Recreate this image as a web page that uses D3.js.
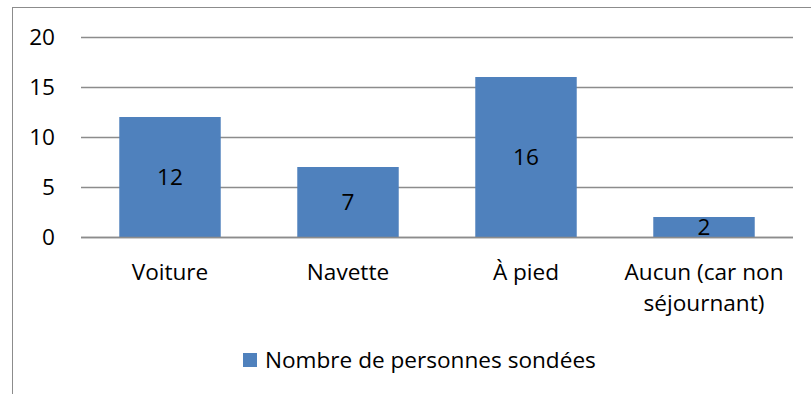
<!DOCTYPE html>
<html>
<head>
<meta charset="utf-8">
<script src="https://cdn.jsdelivr.net/npm/d3@7"></script>
<style>
  html, body { margin: 0; padding: 0; background: #fff; }
  svg { display: block; }
  text { font-family: "Open Sans", "Noto Sans", sans-serif; fill: #000; }
</style>
</head>
<body>
<svg id="chart" width="811" height="394"></svg>
<script>
// Survey: how respondents travel
const categories = ["Voiture", "Navette", "À pied", "Aucun (car non séjournant)"];
const categoryLines = [["Voiture"], ["Navette"], ["À pied"], ["Aucun (car non", "séjournant)"]];
const values = [12, 7, 16, 2];
const yTicks = [0, 5, 10, 15, 20];
const seriesName = "Nombre de personnes sondées";

const svg = d3.select("#chart");
const barColor = "#4F81BD";
const fontSize = 22.6;

// Outer chart frame
svg.append("rect")
  .attr("x", 12.5).attr("y", 7.5)
  .attr("width", 811).attr("height", 400)
  .attr("fill", "none").attr("stroke", "#8c8c8c").attr("stroke-width", 1);

const plot = { left: 81, right: 793, top: 37, bottom: 237 };

const x = d3.scaleBand()
  .domain(categories)
  .range([plot.left, plot.right])
  .paddingInner(0.43)
  .paddingOuter(0.215);

const y = d3.scaleLinear()
  .domain([0, 20])
  .range([plot.bottom, plot.top]);

// Horizontal gridlines
svg.append("g")
  .selectAll("line")
  .data(yTicks)
  .join("line")
  .attr("x1", plot.left).attr("x2", plot.right)
  .attr("y1", d => Math.round(y(d)) + 0.5)
  .attr("y2", d => Math.round(y(d)) + 0.5)
  .attr("stroke", "#8c8c8c")
  .attr("stroke-width", 1.5);

// Y axis labels
svg.append("g")
  .selectAll("text")
  .data(yTicks)
  .join("text")
  .attr("x", 55)
  .attr("y", d => y(d))
  .attr("dy", "0.36em")
  .attr("text-anchor", "end")
  .style("font-size", fontSize + "px")
  .text(d => d);

// Bars
svg.append("g")
  .selectAll("rect")
  .data(values)
  .join("rect")
  .attr("x", (d, i) => x(categories[i]))
  .attr("y", d => y(d))
  .attr("width", x.bandwidth())
  .attr("height", d => y(0) - y(d))
  .attr("fill", barColor);

// Baseline redrawn over bars
svg.append("line")
  .attr("x1", plot.left).attr("x2", plot.right)
  .attr("y1", y(0) + 0.5).attr("y2", y(0) + 0.5)
  .attr("stroke", "#8c8c8c").attr("stroke-width", 1.5);

// Value labels centred in bars
svg.append("g")
  .selectAll("text")
  .data(values)
  .join("text")
  .attr("x", (d, i) => x(categories[i]) + x.bandwidth() / 2)
  .attr("y", d => (y(d) + y(0)) / 2)
  .attr("dy", "0.36em")
  .attr("text-anchor", "middle")
  .style("font-size", fontSize + "px")
  .text(d => d);

// Category labels
const catG = svg.append("g")
  .selectAll("text")
  .data(categories)
  .join("text")
  .attr("x", d => x(d) + x.bandwidth() / 2)
  .attr("y", 280)
  .attr("text-anchor", "middle")
  .style("font-size", fontSize + "px");
catG.selectAll("tspan")
  .data((d, i) => categoryLines[i])
  .join("tspan")
  .attr("x", function() { return d3.select(this.parentNode).attr("x"); })
  .attr("dy", (d, i) => i === 0 ? 0 : 31)
  .text(d => d);

// Legend
const legend = svg.append("g");
legend.append("rect")
  .attr("x", 243).attr("y", 353)
  .attr("width", 14).attr("height", 14)
  .attr("fill", barColor);
legend.append("text")
  .attr("x", 265).attr("y", 368)
  .style("font-size", fontSize + "px")
  .text(seriesName);
</script>
</body>
</html>
